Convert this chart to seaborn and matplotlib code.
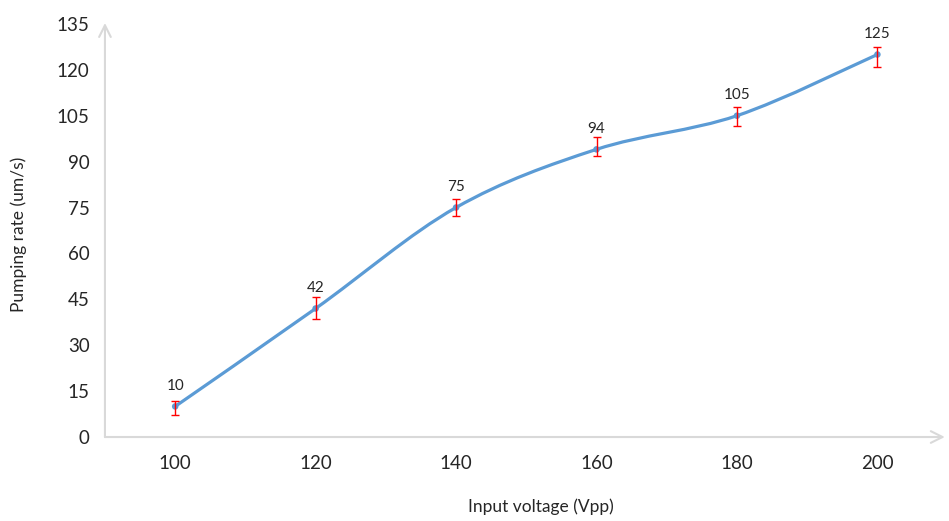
import numpy as np
import pandas as pd
import matplotlib
matplotlib.use("Agg")
import matplotlib.pyplot as plt
from matplotlib.path import Path
from matplotlib.patches import PathPatch
import seaborn as sns

# data
voltage = [100, 120, 140, 160, 180, 200]
rate = [10, 42, 75, 94, 105, 125]
err_low = [2.7, 3.5, 2.7, 2.1, 3.4, 4.1]
err_high = [1.8, 3.6, 2.7, 4.2, 3.0, 2.6]
y_ticks = [0, 15, 30, 45, 60, 75, 90, 105, 120, 135]

df = pd.DataFrame({"Input voltage (Vpp)": voltage, "Pumping rate (um/s)": rate})

sns.set_theme(style="white")
plt.rcParams["font.family"] = ["Lato", "DejaVu Sans"]

fig = plt.figure(figsize=(9.49, 5.21), dpi=100)
ax = fig.add_axes([0.1106, 0.1612, 0.885, 0.7947])

blue = "#5b9bd5"
txt = "#262626"

# smoothed line (Excel-like): cubic Bezier segments through the data points
pts = np.column_stack([voltage, rate]).astype(float)
verts = [tuple(pts[0])]
codes = [Path.MOVETO]
n = len(pts)
for i in range(n - 1):
    p0 = pts[i - 1] if i > 0 else pts[i]
    p1 = pts[i]
    p2 = pts[i + 1]
    p3 = pts[i + 2] if i + 2 < n else pts[i + 1]
    c1 = p1 + (p2 - p0) / 6.0
    c2 = p2 - (p3 - p1) / 6.0
    verts += [tuple(c1), tuple(c2), tuple(p2)]
    codes += [Path.CURVE4] * 3
ax.add_patch(PathPatch(Path(verts, codes), facecolor="none", edgecolor=blue,
                       lw=2.3, capstyle="round", zorder=3))

sns.scatterplot(data=df, x="Input voltage (Vpp)", y="Pumping rate (um/s)",
                ax=ax, color=blue, s=22, edgecolor="none", zorder=4)

ax.errorbar(voltage, rate, yerr=[err_low, err_high], fmt="none",
            ecolor="#ff0000", elinewidth=1.0, capsize=3, capthick=1.0, zorder=5)

for x, y in zip(voltage, rate):
    ax.annotate(str(y), (x, y), xytext=(0, 15), textcoords="offset points",
                ha="center", va="center", fontsize=11, color=txt)

ax.set_xlim(90, 209.6)
ax.set_ylim(0, 135.3)
ax.set_xticks(voltage)
ax.set_yticks(y_ticks)
ax.tick_params(axis="y", length=0, pad=11, labelsize=13.5, colors=txt)
ax.tick_params(axis="x", length=0, pad=13, labelsize=13.5, colors=txt)

for s in ax.spines.values():
    s.set_visible(False)

# axis lines with arrowheads
axis_col = "#d9d9d9"
ax.annotate("", xy=(0, 1.0), xytext=(0, 0), xycoords="axes fraction",
            arrowprops=dict(arrowstyle="->,head_length=0.7,head_width=0.35",
                            color=axis_col, lw=1.5, shrinkA=0, shrinkB=0))
ax.annotate("", xy=(1.0, 0), xytext=(0, 0), xycoords="axes fraction",
            arrowprops=dict(arrowstyle="->,head_length=0.7,head_width=0.35",
                            color=axis_col, lw=1.5, shrinkA=0, shrinkB=0))

ax.set_xlabel("Input voltage (Vpp)", fontsize=12.5, color=txt)
ax.set_ylabel("Pumping rate (um/s)", fontsize=12.5, color=txt)
ax.xaxis.set_label_coords(0.519, -0.148)
ax.yaxis.set_label_coords(-0.093, 0.49)

fig.savefig("out.png", dpi=100)
